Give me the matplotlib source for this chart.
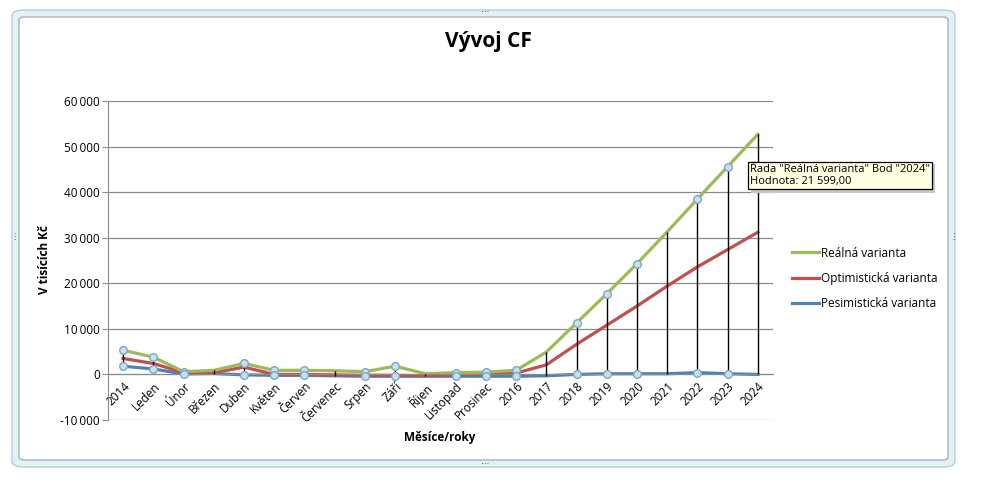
import matplotlib
matplotlib.use('Agg')
from matplotlib import pyplot as plt
from matplotlib.patches import FancyBboxPatch, Rectangle
from matplotlib.ticker import FuncFormatter
import numpy as np

plt.rcParams['font.family'] = ['Open Sans', 'DejaVu Sans']

categories = ['2014', 'Leden', 'Únor', 'Březen', 'Duben', 'Květen', 'Červen',
              'Červenec', 'Srpen', 'Září', 'Říjen', 'Listopad', 'Prosinec',
              '2016', '2017', '2018', '2019', '2020', '2021', '2022', '2023', '2024']

realna = [5300, 3800, 600, 900, 2400, 900, 900, 800, 600, 1800, 150, 400, 500,
          900, 4900, 11300, 17700, 24300, 31300, 38500, 45600, 52700]
optimisticka = [3500, 2400, 400, 400, 1600, 0, 0, -100, -200, -200, -300, -100, 0,
                300, 2100, 6600, 10800, 15000, 19400, 23600, 27400, 31200]
pesimisticka = [1800, 1200, 100, 200, -100, -200, -200, -300, -400, -400, -400, -400, -400,
                -400, -300, 0, 150, 150, 150, 400, 150, 0]

# indexes where Excel shows the selection markers
marker_idx = [0, 1, 2, 4, 5, 6, 8, 9, 11, 12, 13, 15, 16, 17, 19, 20]

x = np.arange(len(categories))

fig = plt.figure(figsize=(9.93, 4.82), dpi=100)

# chart frame
W, H = 993, 482
outer = FancyBboxPatch((12 / W, 1 - 467 / H), (955 - 12) / W, (467 - 10) / H,
                       boxstyle='round,pad=0,rounding_size=0.012',
                       transform=fig.transFigure, facecolor='#E2F1F3',
                       edgecolor='#B9CDD1', linewidth=1.0, zorder=-2)
inner = FancyBboxPatch((19 / W, 1 - 460 / H), (948 - 19) / W, (460 - 17) / H,
                       boxstyle='round,pad=0,rounding_size=0.006',
                       transform=fig.transFigure, facecolor='white',
                       edgecolor='#A7B4B7', linewidth=1.0, zorder=-1)
# tooltip shadow
shadow = Rectangle((751 / W, 1 - 193 / H), 184 / W, 29 / H, transform=fig.transFigure,
                   facecolor='#C8C8C8', edgecolor='none', zorder=9)
fig.patches.extend([outer, inner, shadow])
for px, py in [(485, 12), (485, 464), (14, 238), (953, 238)]:
    fig.text(px / W, 1 - py / H, '⋯' if py in (12, 464) else '⋮', fontsize=6,
             color='#555555', ha='center', va='center')

ax = fig.add_axes([108 / W, 1 - 420 / H, (773 - 108) / W, (420 - 101) / H])
ax.set_facecolor('none')

ys = np.vstack([realna, optimisticka, pesimisticka])
ax.vlines(x, ys.min(axis=0), ys.max(axis=0), color='black', linewidth=1.0, zorder=3)

ax.plot(x, realna, color='#9BBB59', linewidth=2.3, label='Reálná varianta', zorder=2.5)
ax.plot(x, optimisticka, color='#C0504D', linewidth=2.3, label='Optimistická varianta', zorder=2.4)
ax.plot(x, pesimisticka, color='#4F81BD', linewidth=2.3, label='Pesimistická varianta', zorder=2.3)

for series in (realna, pesimisticka):
    ax.plot(x[marker_idx], np.array(series)[marker_idx], linestyle='none', marker='o',
            markersize=5.5, markerfacecolor='#C6E2E6', markeredgecolor='#7FA6C4',
            markeredgewidth=1.0, zorder=4)

ax.set_xlim(-0.5, len(categories) - 0.5)
ax.set_ylim(-10000, 60000)
ax.set_yticks(np.arange(-10000, 60001, 10000))
ax.yaxis.set_major_formatter(FuncFormatter(lambda v, p: f'{int(v):,}'.replace(',', '\u2009')))
ax.grid(axis='y', color='#8C8C8C', linewidth=0.9)
ax.set_axisbelow(True)

for s in ('top', 'right'):
    ax.spines[s].set_visible(False)
ax.spines['left'].set_color('#8C8C8C')
ax.spines['bottom'].set_color('#8C8C8C')
ax.spines['bottom'].set_position(('data', 0))
ax.tick_params(axis='y', length=4, color='#8C8C8C', labelsize=8.5, pad=2)
ax.tick_params(axis='x', length=0, labelsize=8.5, pad=4)
ax.set_xticks(x)
ax.set_xticklabels(categories, rotation=45, ha='right', rotation_mode='anchor')

fig.text(488 / W, 1 - 42 / H, 'Vývoj CF', fontsize=15, fontweight='bold',
         ha='center', va='center')
fig.text(44 / W, 1 - 260 / H, 'V tisících Kč', fontsize=8.5, fontweight='bold',
         rotation=90, ha='center', va='center')
fig.text(440 / W, 1 - 438 / H, 'Měsíce/roky', fontsize=8.5, fontweight='bold',
         ha='center', va='center')

leg = ax.legend(loc='upper left', bbox_to_anchor=(781 / W, 1 - 236 / H),
                bbox_transform=fig.transFigure, frameon=False, fontsize=8.5,
                handlelength=2.3, handletextpad=0.2, labelspacing=1.05)

# tooltip
tip = 'Řada "Reálná varianta" Bod "2024"\nHodnota: 21 599,00'
fig.text(750 / W, 1 - 164 / H, tip, fontsize=8, ha='left', va='top', linespacing=1.1,
         bbox=dict(boxstyle='square,pad=0.2', facecolor='#FFFFE1', edgecolor='black',
                   linewidth=0.9), zorder=10)

fig.savefig('out.png', dpi=100)
